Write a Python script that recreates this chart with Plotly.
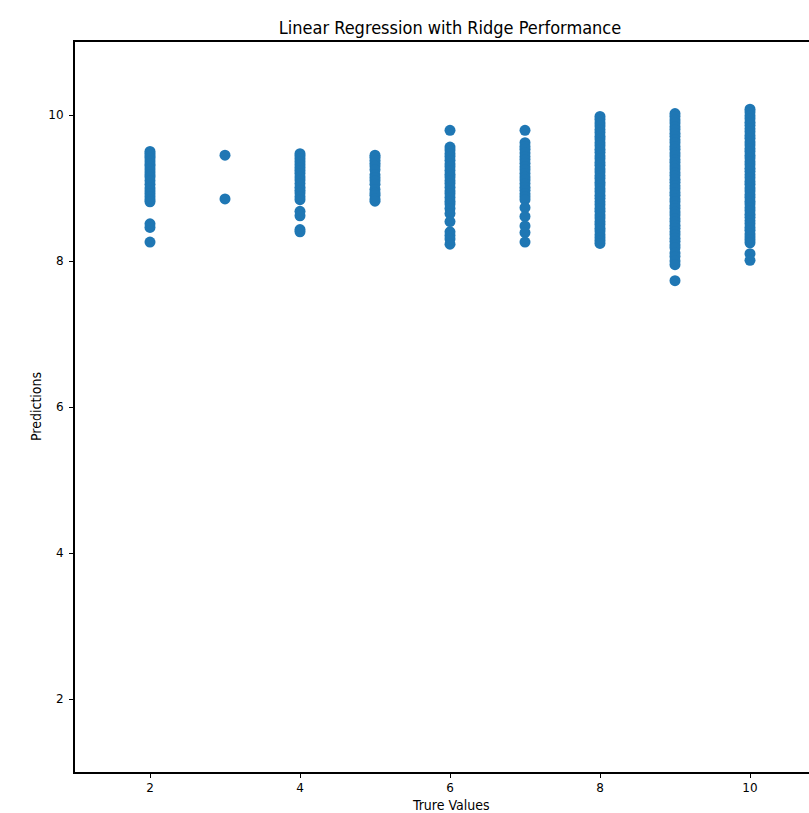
import plotly.graph_objects as go

true_values = [2, 3, 4, 5, 6, 7, 8, 9, 10]

pred_2 = [9.50, 9.47, 9.44, 9.41, 9.37, 9.33, 9.30, 9.26, 9.22, 9.18, 9.15, 9.10,
          9.05, 9.00, 8.96, 8.92, 8.88, 8.84, 8.81, 8.51, 8.46, 8.26]
pred_3 = [9.45, 8.85]
pred_4 = [9.47, 9.44, 9.40, 9.36, 9.32, 9.28, 9.24, 9.20, 9.15, 9.11, 9.06, 9.01,
          8.97, 8.93, 8.88, 8.84, 8.68, 8.62, 8.43, 8.40]
pred_5 = [9.45, 9.42, 9.38, 9.34, 9.30, 9.25, 9.18, 9.14, 9.10, 9.05, 8.98, 8.93,
          8.90, 8.85, 8.82]
pred_6 = [9.79, 9.56, 9.52, 9.47, 9.43, 9.38, 9.33, 9.29, 9.24, 9.19, 9.15, 9.10,
          9.06, 9.01, 8.96, 8.92, 8.87, 8.82, 8.78, 8.72, 8.65, 8.54, 8.40, 8.35,
          8.30, 8.23]
pred_7 = [9.79, 9.62, 9.57, 9.53, 9.48, 9.43, 9.39, 9.34, 9.29, 9.25, 9.20, 9.15,
          9.11, 9.06, 9.01, 8.97, 8.92, 8.88, 8.84, 8.73, 8.61, 8.48, 8.39, 8.26]
pred_8 = [9.98, 9.94, 9.89, 9.85, 9.80, 9.76, 9.71, 9.67, 9.62, 9.58, 9.53, 9.49,
          9.44, 9.40, 9.35, 9.31, 9.26, 9.22, 9.17, 9.13, 9.08, 9.04, 8.99, 8.95,
          8.90, 8.86, 8.81, 8.77, 8.72, 8.68, 8.63, 8.59, 8.54, 8.50, 8.45, 8.41,
          8.36, 8.32, 8.28, 8.24]
pred_9 = [10.02, 9.98, 9.93, 9.89, 9.84, 9.80, 9.75, 9.71, 9.66, 9.62, 9.57, 9.53,
          9.48, 9.44, 9.39, 9.35, 9.30, 9.26, 9.21, 9.17, 9.12, 9.08, 9.03, 8.99,
          8.94, 8.90, 8.85, 8.81, 8.76, 8.72, 8.67, 8.63, 8.58, 8.54, 8.49, 8.45,
          8.40, 8.36, 8.31, 8.27, 8.22, 8.18, 8.11, 8.06, 8.00, 7.95, 7.73]
pred_10 = [10.08, 10.04, 9.99, 9.95, 9.90, 9.86, 9.81, 9.77, 9.72, 9.68, 9.63, 9.59,
           9.54, 9.50, 9.45, 9.41, 9.36, 9.32, 9.27, 9.23, 9.18, 9.14, 9.09, 9.05,
           9.00, 8.96, 8.91, 8.87, 8.82, 8.78, 8.73, 8.69, 8.64, 8.60, 8.55, 8.51,
           8.46, 8.42, 8.37, 8.33, 8.29, 8.25, 8.10, 8.01]

groups = [pred_2, pred_3, pred_4, pred_5, pred_6, pred_7, pred_8, pred_9, pred_10]

xs, ys = [], []
for tv, preds in zip(true_values, groups):
    xs.extend([tv] * len(preds))
    ys.extend(preds)

tick_vals_x = [2, 4, 6, 8, 10]
tick_vals_y = [2, 4, 6, 8, 10]

W, H = 809, 813
L, R, T, B = 75, 0, 42, 41
plot_w = W - L - R
plot_h = H - T - B
px_per_unit = 75.0
x_min = 1.0
x_max = x_min + plot_w / px_per_unit

fig = go.Figure(go.Scatter(
    x=xs, y=ys, mode="markers",
    marker=dict(color="#1f77b4", size=11, line=dict(width=0)),
    hoverinfo="x+y",
))

tick_font = dict(family="DejaVu Sans", size=12, color="black")
lab_font = dict(family="DejaVu Sans Condensed, DejaVu Sans", size=14, color="black")

fig.update_layout(
    width=W, height=H,
    margin=dict(l=L, r=R, t=T, b=B, pad=0),
    paper_bgcolor="white", plot_bgcolor="white",
    showlegend=False,
    title=dict(text="Linear Regression with Ridge Performance",
               x=450 / W, xref="container", xanchor="center",
               y=1 - 28 / H, yref="container", yanchor="middle",
               font=dict(family="DejaVu Sans Condensed, DejaVu Sans", size=18, color="black")),
    xaxis=dict(range=[x_min, x_max], tickvals=tick_vals_x, ticks="outside", ticklen=4,
               tickwidth=1, tickcolor="black", showgrid=False, zeroline=False,
               showline=True, linecolor="black", linewidth=2, mirror=True,
               tickfont=tick_font, ticklabelstandoff=0),
    yaxis=dict(range=[1, 11], tickvals=tick_vals_y, ticks="outside", ticklen=4,
               tickwidth=1, tickcolor="black", showgrid=False, zeroline=False,
               showline=True, linecolor="black", linewidth=2, mirror=False,
               tickfont=tick_font, ticklabelstandoff=3),
    annotations=[
        dict(text="Trure Values", xref="paper", yref="paper",
             x=(450 - L) / plot_w, y=-(805 - (H - B)) / plot_h,
             xanchor="center", yanchor="middle", showarrow=False, font=lab_font),
        dict(text="Predictions", xref="paper", yref="paper",
             x=-(L - 36) / plot_w, y=0.5, textangle=-90,
             xanchor="center", yanchor="middle", showarrow=False, font=lab_font),
    ],
)

fig.write_html("out.html", config={"displayModeBar": False},
               post_script="document.body.style.margin='0px';")
